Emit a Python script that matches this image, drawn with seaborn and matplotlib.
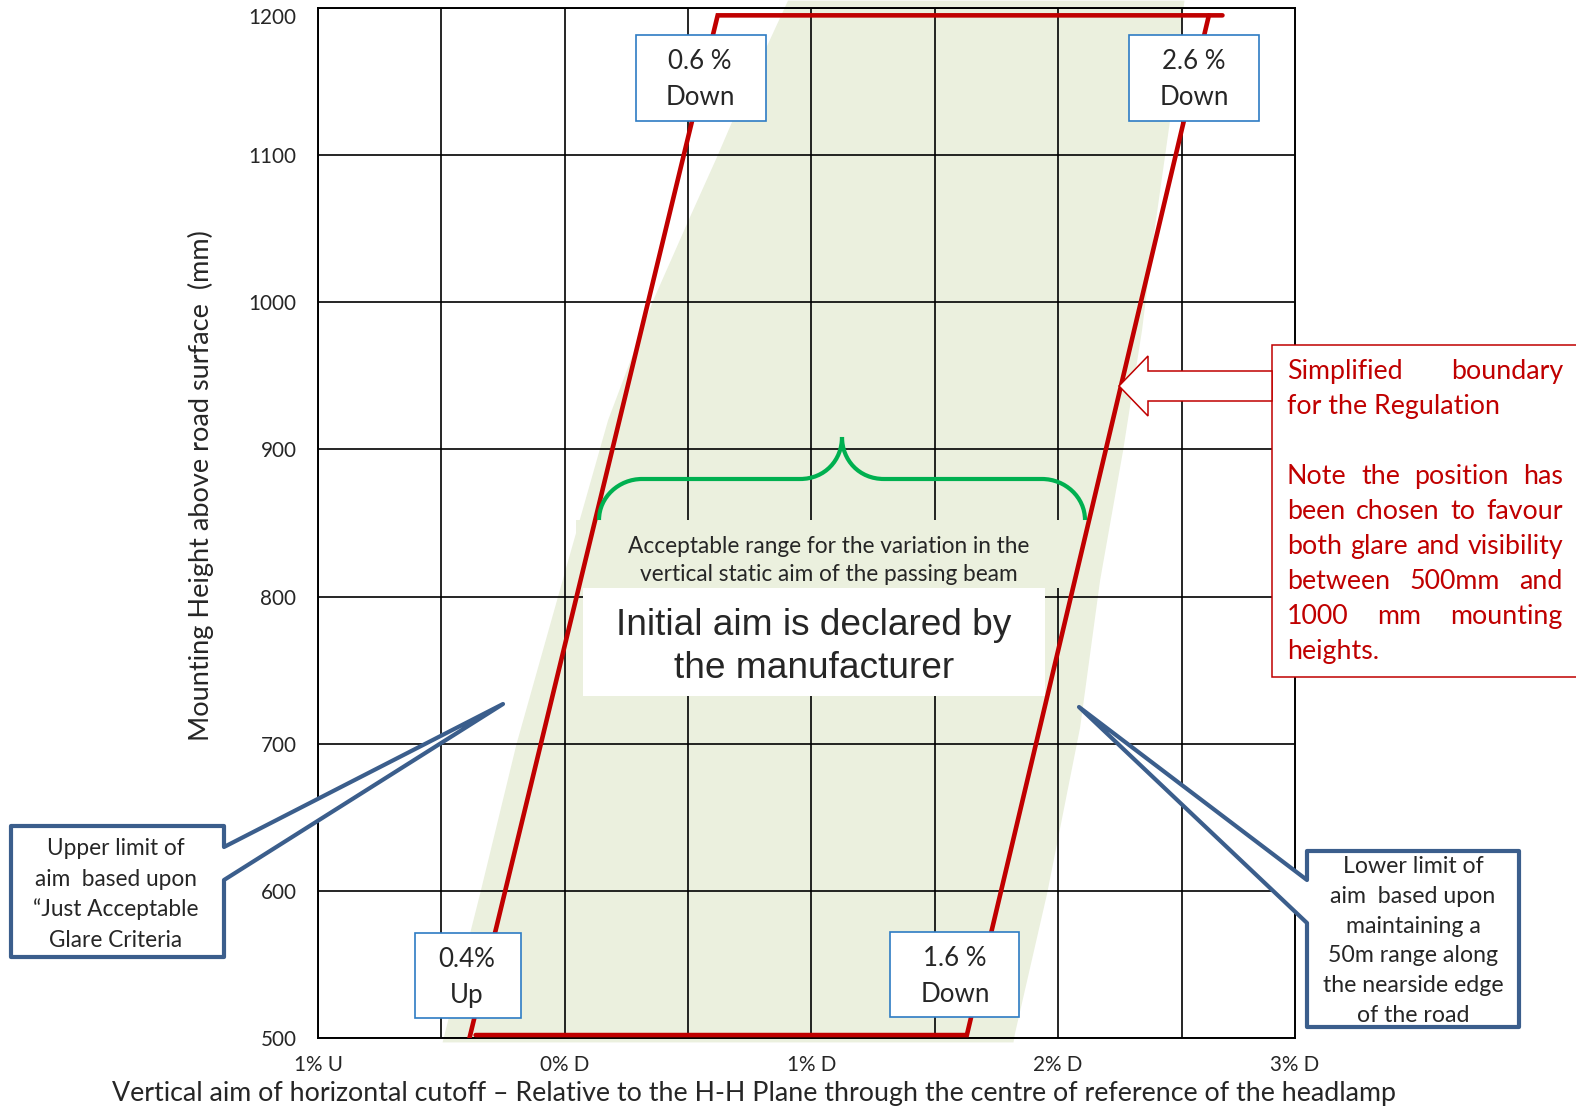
import matplotlib
matplotlib.use("Agg")
import matplotlib.pyplot as plt
from matplotlib.patches import Polygon, Rectangle, PathPatch
from matplotlib.path import Path
from matplotlib.ticker import MultipleLocator
from matplotlib.transforms import Affine2D
import seaborn as sns

# %% Data
x_ticks = [-1, 0, 1, 2, 3]
x_tick_labels = ["1% U", "0% D", "1% D", "2% D", "3% D"]
y_ticks = [500, 600, 700, 800, 900, 1000, 1100, 1200]

# simplified boundary for the regulation (red)
upper_limit_x = [-0.386, 0.620, 2.666]
upper_limit_y = [500, 1195, 1195]
lower_limit_x = [-0.361, 1.630, 2.611]
lower_limit_y = [502, 502, 1195]

# shaded acceptable band: left edge bottom->top, right edge top->bottom
band_left_x = [-0.495, -0.343, -0.195, 0.010, 0.176, 0.358, 0.508, 0.618, 0.682, 0.905]
band_left_y = [497, 598, 700, 822, 920, 1001, 1058, 1099, 1124, 1205]
band_right_x = [2.512, 2.454, 2.389, 2.340, 2.263, 2.170, 2.089, 1.955, 1.825, 1.819]
band_right_y = [1205, 1124, 1047, 981, 899, 811, 711, 598, 503, 497]

red_note = ["Simplified boundary", "for the Regulation", "",
            "Note the position has", "been chosen to favour",
            "both glare and visibility", "between 500mm and",
            "1000 mm mounting", "heights."]
upper_note = ["Upper limit of", "aim  based upon", "\u201cJust Acceptable", "Glare Criteria"]
lower_note = ["Lower limit of", "aim  based upon", "maintaining a",
              "50m range along", "the nearside edge", "of the road"]

RED = "#C00000"
NAVY = "#3B5E8C"
BOXBLUE = "#2E7CC4"
BAND = "#EBF0DE"
BRACE = "#00B050"

# %% Setup
sns.set_theme(style="white")
plt.rcParams["font.family"] = ["Lato", "DejaVu Sans"]

W, H = 1576, 1108
fig = plt.figure(figsize=(W / 100, H / 100), dpi=100)
ax = fig.add_axes([318 / W, 1 - 1038 / H, 977 / W, 1030 / H])
PX = Affine2D().scale(1 / W, -1 / H).translate(0, 1) + fig.transFigure


def label(x, y, s, size, ha="center", va="baseline", z=9, **kw):
    return ax.text(x, y, s, transform=PX, ha=ha, va=va, fontsize=size,
                   clip_on=False, zorder=z, **kw)


def box(x0, y0, x1, y1, ec, lw, fc="white", z=6):
    ax.add_patch(Rectangle((x0, y0), x1 - x0, y1 - y0, transform=PX, fc=fc,
                           ec=ec, lw=lw, zorder=z, clip_on=False))


# %% Axes and grid (the drawn frame stops just short of 3 %)
TICK_PAD = 12.5
ax.set_xlim(-1, 2.96)
ax.set_ylim(500, 1200)
ax.set_xticks(x_ticks[:-1])
ax.set_xticklabels(x_tick_labels[:-1])
ax.set_yticks(y_ticks)
ax.xaxis.set_minor_locator(MultipleLocator(0.5))
ax.set_axisbelow(True)
ax.grid(which="both", color="black", lw=1.2)
ax.tick_params(which="both", length=0)
ax.tick_params(axis="y", pad=15.5)
ax.tick_params(axis="x", pad=TICK_PAD)
for sp in ax.spines.values():
    sp.set_color("black")
    sp.set_linewidth(1.4)

# shaded band
ax.fill(band_left_x + band_right_x, band_left_y + band_right_y, color=BAND,
        lw=0, zorder=0.2, clip_on=False)

# text panel behind the acceptable range note, and the white manufacturer box
box(576, 520, 1061, 588, ec="none", lw=0, fc=BAND, z=1)
box(583, 588, 1045, 696, ec="none", lw=0, fc="white", z=1)

# red boundary
sns.lineplot(x=upper_limit_x, y=upper_limit_y, sort=False, estimator=None,
             color=RED, lw=3.3, ax=ax, zorder=4, solid_joinstyle="miter")
sns.lineplot(x=lower_limit_x, y=lower_limit_y, sort=False, estimator=None,
             color=RED, lw=3.3, ax=ax, zorder=4, solid_joinstyle="miter")
ax.set_xlabel("")
ax.set_ylabel("")

# green brace
brace = Path([(599, 520), (599, 497), (619, 479), (642, 479),
              (800, 479), (825, 479), (842, 460), (842, 437),
              (842, 460), (859, 479), (884, 479),
              (1042, 479), (1065, 479), (1085, 497), (1085, 520)],
             [Path.MOVETO, Path.CURVE4, Path.CURVE4, Path.CURVE4,
              Path.LINETO, Path.CURVE4, Path.CURVE4, Path.CURVE4,
              Path.CURVE4, Path.CURVE4, Path.CURVE4,
              Path.LINETO, Path.CURVE4, Path.CURVE4, Path.CURVE4])
ax.add_patch(PathPatch(brace, transform=PX, fc="none", ec=BRACE, lw=3,
                       zorder=7, clip_on=False))

# aim labels
box(636, 35, 766, 121, ec=BOXBLUE, lw=1.2)
box(1129, 35, 1259, 121, ec=BOXBLUE, lw=1.2)
box(415, 933, 521, 1018, ec=BOXBLUE, lw=1.2)
box(890, 932, 1019, 1017, ec=BOXBLUE, lw=1.2)
aim_texts = [
    label(700, 69, "0.6 %", 19), label(700, 105, "Down", 19),
    label(1194, 69, "2.6 %", 19), label(1194, 105, "Down", 19),
    label(467, 967, "0.4%", 19), label(467, 1003, "Up", 19),
    label(955, 966, "1.6 %", 19), label(955, 1002, "Down", 19),
]

# callouts
ax.add_patch(Polygon([(11, 826), (224, 826), (224, 847), (503, 704), (224, 880),
                      (224, 957), (11, 957)], transform=PX, fc="white", ec=NAVY,
                     lw=3, joinstyle="round", zorder=6, clip_on=False))
ax.add_patch(Polygon([(1307, 851), (1519, 851), (1519, 1027), (1307, 1027),
                      (1307, 923), (1079, 707), (1307, 880)], transform=PX,
                     fc="white", ec=NAVY, lw=3, joinstyle="round", zorder=6,
                     clip_on=False))
upper_texts = [label(116, 855 + 30.7 * i, s, 14) for i, s in enumerate(upper_note)]
lower_texts = [label(1413, 873 + 29.8 * i, s, 14) for i, s in enumerate(lower_note)]

# red note box and arrow
box(1272, 345, 1600, 677, ec=RED, lw=1.1)
ax.add_patch(Polygon([(1272, 371), (1148, 371), (1148, 356), (1119, 386),
                      (1148, 416), (1148, 401), (1272, 401)], transform=PX,
                     fc="white", ec=RED, lw=1.1, zorder=6, clip_on=False))

# centre notes
acc_texts = [label(829, 553, "Acceptable range for the variation in the", 16),
             label(829, 581, "vertical static aim of the passing beam", 16)]
init_texts = [label(814, 635, "Initial aim is declared by", 27, family="Liberation Sans"),
              label(814, 678, "the manufacturer", 27, family="Liberation Sans")]

# axis titles
xlab = label(754, 1093, "Vertical aim of horizontal cutoff \u2013 Relative to the H-H Plane "
             "through the centre of reference of the headlamp", 17, va="center")
ylab = label(201, 486, "Mounting Height above road surface  (mm)", 17, va="center",
             rotation=90)

# %% Fit text sizes to the measured widths
fig.canvas.draw()
R = fig.canvas.get_renderer()


def fit(texts, ref, target, attr="width"):
    ext = ref.get_window_extent(R)
    s = ref.get_fontsize() * target / getattr(ext, attr)
    for t in texts:
        t.set_fontsize(s)
    return s


tick_size = fit([], ax.get_yticklabels()[-1], 48)
ax.tick_params(labelsize=tick_size)
fit(aim_texts, aim_texts[1], 69)
fit(upper_texts, upper_texts[2], 166)
fit(lower_texts, lower_texts[4], 181)
fit(acc_texts, acc_texts[0], 403)
fit(init_texts, init_texts[0], 395)
fit([xlab], xlab, 1276)
fit([ylab], ylab, 510, attr="height")

# last x label sits at the end of the frame
trans, va, ha = ax.get_xaxis_text1_transform(TICK_PAD)
ax.text(ax.get_xlim()[1], 0, x_tick_labels[-1], transform=trans, va=va,
        ha=ha, fontsize=tick_size)

probe = label(0, 0, "both glare and visibility", 19)
red_size = fit([], probe, 272)
probe.remove()

# justified red note
x0, x1 = 1287, 1563
for i, line in enumerate(red_note):
    if not line:
        continue
    yb = 379 + 35 * i
    last = i + 1 == len(red_note) or not red_note[i + 1]
    if last:
        label(x0, yb, line, red_size, ha="left", color=RED)
        continue
    words = [label(x0, yb, w, red_size, ha="left", color=RED) for w in line.split()]
    widths = [w.get_window_extent(R).width for w in words]
    gap = (x1 - x0 - sum(widths)) / (len(words) - 1)
    pos = x0
    for w, wd in zip(words, widths):
        w.set_x(pos)
        pos += wd + gap

fig.canvas.draw()
ax.get_yticklabels()[-1].set_va("top")

fig.savefig("out.png", dpi=100)
